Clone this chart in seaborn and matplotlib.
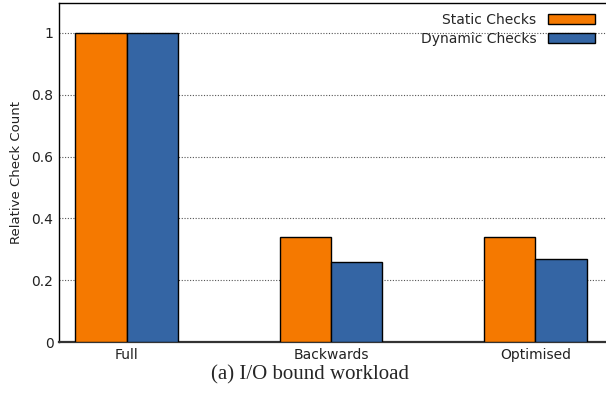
import matplotlib
matplotlib.use("Agg")
import matplotlib.pyplot as plt
import seaborn as sns
import pandas as pd

# Relative number of bounds checks per instrumentation scheme
schemes = ["Full", "Backwards", "Optimised"]
static_checks = [1.0, 0.34, 0.34]
dynamic_checks = [1.0, 0.26, 0.27]
series_names = ["Static Checks", "Dynamic Checks"]
series_colors = ["#F57900", "#3465A4"]
y_ticks = [0, 0.2, 0.4, 0.6, 0.8, 1.0]
y_tick_labels = ["0", "0.2", "0.4", "0.6", "0.8", "1"]

df = pd.DataFrame({
    "scheme": schemes * 2,
    "count": static_checks + dynamic_checks,
    "kind": [series_names[0]] * len(schemes) + [series_names[1]] * len(schemes),
})

sns.set_style("white")
plt.rcParams["font.family"] = ["DejaVu Sans"]

fig = plt.figure(figsize=(6.06, 3.97), dpi=100)
ax = fig.add_axes([0.0974, 0.1385, 0.9026, 0.854])

sns.barplot(
    data=df, x="scheme", y="count", hue="kind",
    palette=series_colors, width=0.5, edgecolor="black", linewidth=1.0,
    saturation=1.0, ax=ax, zorder=3,
)

ax.set_xlim(-0.33, 2.345)
ax.set_ylim(0, 1.097)
ax.set_yticks(y_ticks)
ax.set_yticklabels(y_tick_labels)
ax.yaxis.grid(True, linestyle=(0, (1, 1.5)), color="#555555", linewidth=0.8, zorder=0)
ax.set_axisbelow(True)
ax.tick_params(axis="both", length=0, labelsize=10, colors="#222222", pad=4)

ax.set_xlabel("")
ax.set_ylabel("Relative Check Count", fontsize=9.5, color="#222222", labelpad=6)

for side in ["left", "top"]:
    ax.spines[side].set_visible(True)
    ax.spines[side].set_color("black")
    ax.spines[side].set_linewidth(1.0)
ax.spines["bottom"].set_color("#333333")
ax.spines["bottom"].set_linewidth(1.6)
ax.spines["right"].set_visible(False)

leg = ax.legend(
    loc="upper right", bbox_to_anchor=(0.995, 0.995), frameon=False,
    markerfirst=False, fontsize=10, handlelength=3.4, handleheight=0.8,
    labelspacing=0.35, handletextpad=0.8, borderaxespad=0.2,
)
for patch in leg.get_patches():
    patch.set_edgecolor("black")
    patch.set_linewidth(1.0)

fig.text(0.512, 0.055, "(a) I/O bound workload", ha="center", va="center",
         fontsize=15, family=["Liberation Serif", "DejaVu Serif"])

fig.savefig("out.png", dpi=100)
